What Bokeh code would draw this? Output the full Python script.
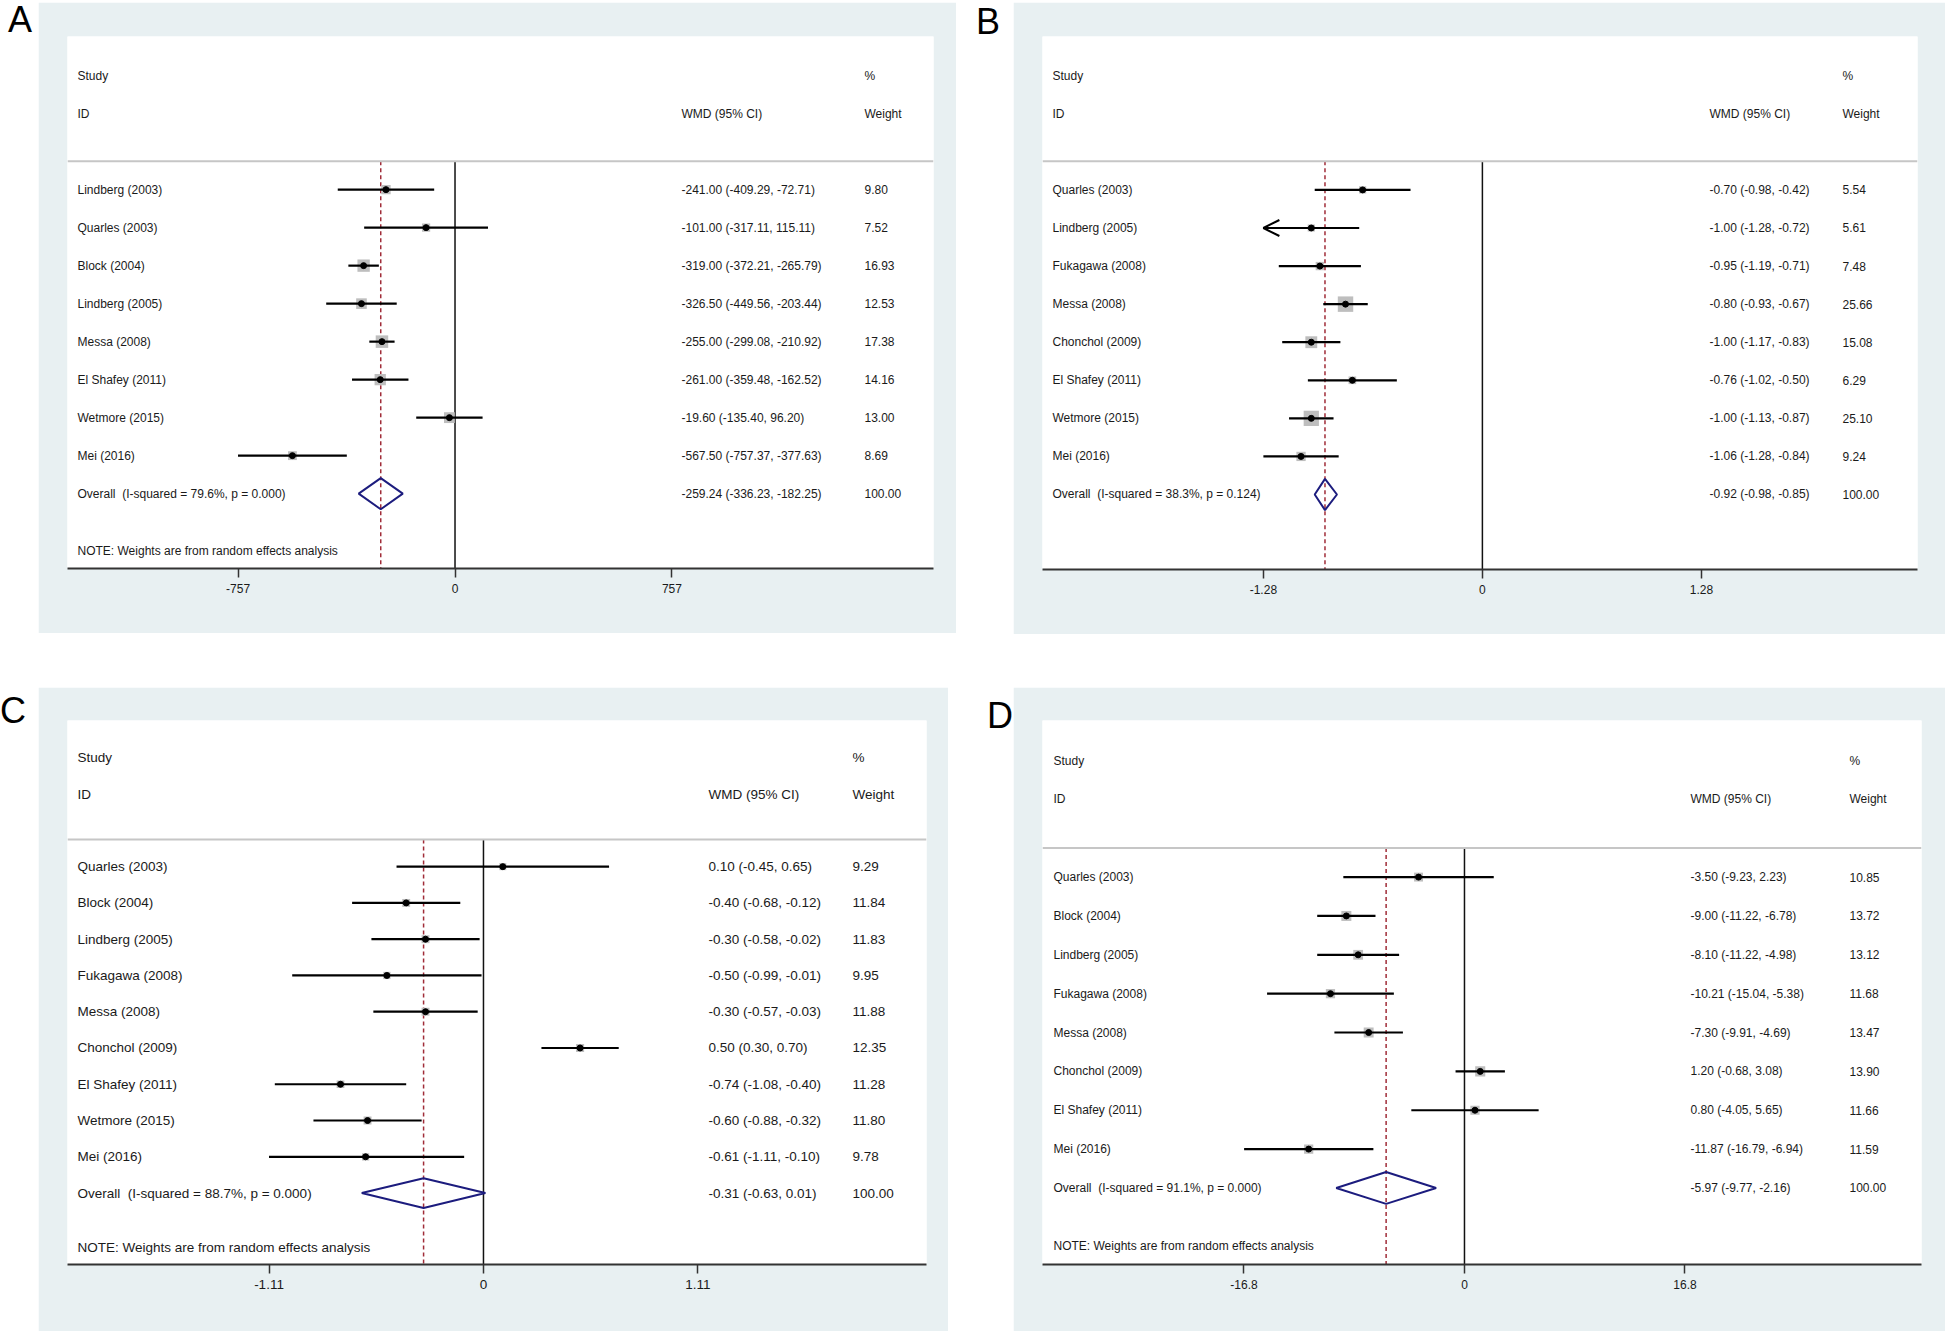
import math
from bokeh.plotting import figure
from bokeh.layouts import row, column, Spacer
from bokeh.models import Range1d, FixedTicker, Div, Span, Arrow, OpenHead
from bokeh.core.properties import value
from bokeh.embed import file_html
from bokeh.resources import INLINE

FONT = "Liberation Sans"
BG = "#E8F0F2"
NAVY = "#1C1C7E"
RED = "#A02C38"

# ---------------- Panel A ----------------
a_studies = ["Lindberg (2003)", "Quarles (2003)", "Block (2004)", "Lindberg (2005)",
             "Messa (2008)", "El Shafey (2011)", "Wetmore (2015)", "Mei (2016)"]
a_wmd = [-241.00, -101.00, -319.00, -326.50, -255.00, -261.00, -19.60, -567.50]
a_lo = [-409.29, -317.11, -372.21, -449.56, -299.08, -359.48, -135.40, -757.37]
a_hi = [-72.71, 115.11, -265.79, -203.44, -210.92, -162.52, 96.20, -377.63]
a_wt = [9.80, 7.52, 16.93, 12.53, 17.38, 14.16, 13.00, 8.69]
a_overall = [-259.24, -336.23, -182.25]
a_i2, a_p = "79.6%", "0.000"
a_ticks = [-757, 0, 757]
a_tick_labels = ["-757", "0", "757"]

# ---------------- Panel B ----------------
b_studies = ["Quarles (2003)", "Lindberg (2005)", "Fukagawa (2008)", "Messa (2008)",
             "Chonchol (2009)", "El Shafey (2011)", "Wetmore (2015)", "Mei (2016)"]
b_wmd = [-0.70, -1.00, -0.95, -0.80, -1.00, -0.76, -1.00, -1.06]
b_lo = [-0.98, -1.28, -1.19, -0.93, -1.17, -1.02, -1.13, -1.28]
b_hi = [-0.42, -0.72, -0.71, -0.67, -0.83, -0.50, -0.87, -0.84]
b_wt = [5.54, 5.61, 7.48, 25.66, 15.08, 6.29, 25.10, 9.24]
b_overall = [-0.92, -0.98, -0.85]
b_i2, b_p = "38.3%", "0.124"
b_ticks = [-1.28, 0, 1.28]
b_tick_labels = ["-1.28", "0", "1.28"]

# ---------------- Panel C ----------------
c_studies = ["Quarles (2003)", "Block (2004)", "Lindberg (2005)", "Fukagawa (2008)",
             "Messa (2008)", "Chonchol (2009)", "El Shafey (2011)", "Wetmore (2015)", "Mei (2016)"]
c_wmd = [0.10, -0.40, -0.30, -0.50, -0.30, 0.50, -0.74, -0.60, -0.61]
c_lo = [-0.45, -0.68, -0.58, -0.99, -0.57, 0.30, -1.08, -0.88, -1.11]
c_hi = [0.65, -0.12, -0.02, -0.01, -0.03, 0.70, -0.40, -0.32, -0.10]
c_wt = [9.29, 11.84, 11.83, 9.95, 11.88, 12.35, 11.28, 11.80, 9.78]
c_overall = [-0.31, -0.63, 0.01]
c_i2, c_p = "88.7%", "0.000"
c_ticks = [-1.11, 0, 1.11]
c_tick_labels = ["-1.11", "0", "1.11"]

# ---------------- Panel D ----------------
d_studies = ["Quarles (2003)", "Block (2004)", "Lindberg (2005)", "Fukagawa (2008)",
             "Messa (2008)", "Chonchol (2009)", "El Shafey (2011)", "Mei (2016)"]
d_wmd = [-3.50, -9.00, -8.10, -10.21, -7.30, 1.20, 0.80, -11.87]
d_lo = [-9.23, -11.22, -11.22, -15.04, -9.91, -0.68, -4.05, -16.79]
d_hi = [2.23, -6.78, -4.98, -5.38, -4.69, 3.08, 5.65, -6.94]
d_wt = [10.85, 13.72, 13.12, 11.68, 13.47, 13.90, 11.66, 11.59]
d_overall = [-5.97, -9.77, -2.16]
d_i2, d_p = "91.1%", "0.000"
d_ticks = [-16.8, 0, 16.8]
d_tick_labels = ["-16.8", "0", "16.8"]

NOTE = "NOTE: Weights are from random effects analysis"


def fmt(v):
    return f"{v:.2f}"


def forest(studies, wmd, lo, hi, wt, ov, i2, pval, ticks, tick_labels, xr, size,
           borders, cols, box_k, fs, note=True, arrow_rows=()):
    n = len(studies)
    W, H = size
    bl, br, bt, bb = borders
    ybot = n + 1.97
    p = figure(width=W, height=H, x_range=Range1d(*xr), y_range=Range1d(ybot, -4.03),
               output_backend="svg", toolbar_location=None, y_axis_type=None,
               min_border_left=bl, min_border_right=br, min_border_top=bt, min_border_bottom=bb,
               background_fill_color="white", border_fill_color=BG, outline_line_color=None)
    p.xgrid.visible = False
    p.ygrid.visible = False
    fw = W - bl - br

    def xc(off):
        return xr[0] + off / fw * (xr[1] - xr[0])

    rows = list(range(n))
    fsz = f"{fs}px"
    txt = dict(text_font=value(FONT), text_font_size=fsz, text_baseline="middle",
               text_align="left", text_color="#1a1a1a")

    # header separator
    p.add_layout(Span(location=-0.75, dimension="width", line_color="#C6C6C6", line_width=2))
    # reference lines
    p.segment(x0=[0], y0=[-0.75], x1=[0], y1=[ybot], line_color="#111111", line_width=1.5)
    p.segment(x0=[ov[0]], y0=[-0.75], x1=[ov[0]], y1=[ybot], line_color=RED,
              line_width=1.5, line_dash="4 3")

    # weight boxes
    sizes = [box_k * math.sqrt(w) for w in wt]
    p.scatter(x=wmd, y=rows, size=sizes, marker="square", fill_color="#BEBEBE",
              line_color=None)
    # CIs
    p.segment(x0=lo, y0=rows, x1=hi, y1=rows, line_color="black", line_width=2.2)
    for r in arrow_rows:
        p.add_layout(Arrow(end=OpenHead(size=16, line_width=2, line_color="black"),
                           x_start=wmd[r], y_start=r, x_end=lo[r], y_end=r,
                           line_width=2.2, line_color="black"))
    # point estimates
    p.scatter(x=wmd, y=rows, size=6, marker="circle", fill_color="black", line_color="black")

    # overall diamond
    ry = n
    h = 0.41
    p.patch(x=[ov[1], ov[0], ov[2], ov[0], ov[1]], y=[ry, ry - h, ry, ry + h, ry],
            fill_color=None, line_color=NAVY, line_width=2)

    # text columns
    c_lab, c_wmd, c_wt = cols
    labels = list(studies) + [f"Overall \u00a0(I-squared = {i2}, p = {pval})"]
    ys = rows + [n]
    p.text(x=[xc(c_lab)] * (n + 1), y=ys, text=labels, **txt)
    wmd_txt = [f"{fmt(a)} ({fmt(b)}, {fmt(c)})" for a, b, c in zip(wmd, lo, hi)]
    wmd_txt.append(f"{fmt(ov[0])} ({fmt(ov[1])}, {fmt(ov[2])})")
    p.text(x=[xc(c_wmd)] * (n + 1), y=ys, text=wmd_txt, **txt)
    wt_txt = [fmt(w) for w in wt] + ["100.00"]
    p.text(x=[xc(c_wt)] * (n + 1), y=ys, text=wt_txt, **txt)
    # headers
    p.text(x=[xc(c_lab), xc(c_lab), xc(c_wmd), xc(c_wt), xc(c_wt)],
           y=[-3, -2, -2, -3, -2],
           text=["Study", "ID", "WMD (95% CI)", "%", "Weight"], **txt)
    if note:
        p.text(x=[xc(c_lab)], y=[n + 1.5], text=[NOTE], **txt)

    # axis
    ax = p.xaxis[0]
    ax.ticker = FixedTicker(ticks=ticks)
    ax.major_label_overrides = {t: l for t, l in zip(ticks, tick_labels)}
    ax.minor_tick_line_color = None
    ax.axis_line_width = 2
    ax.axis_line_color = "#333333"
    ax.major_tick_in = 0
    ax.major_tick_out = 9
    ax.major_tick_line_width = 1.5
    ax.major_tick_line_color = "#333333"
    ax.major_label_text_font = FONT
    ax.major_label_text_font_size = fsz
    ax.major_label_text_color = "#1a1a1a"
    ax.major_label_standoff = 6
    return p


figA = forest(a_studies, a_wmd, a_lo, a_hi, a_wt, a_overall, a_i2, a_p, a_ticks, a_tick_labels,
              xr=(-1352.5, 1670), size=(918, 631), borders=(29, 23, 33, 65),
              cols=(10, 614, 797), box_k=3.0, fs=12, note=True)
figB = forest(b_studies, b_wmd, b_lo, b_hi, b_wt, b_overall, b_i2, b_p, b_ticks, b_tick_labels,
              xr=(-2.571, 2.543), size=(932, 632), borders=(29, 28, 34, 64),
              cols=(10, 667, 800), box_k=3.05, fs=12, note=False, arrow_rows=(1,))
figC = forest(c_studies, c_wmd, c_lo, c_hi, c_wt, c_overall, c_i2, c_p, c_ticks, c_tick_labels,
              xr=(-2.153, 2.293), size=(910, 644), borders=(29, 22, 32, 66),
              cols=(10, 641, 785), box_k=2.3, fs=13.5, note=True)
figD = forest(d_studies, d_wmd, d_lo, d_hi, d_wt, d_overall, d_i2, d_p, d_ticks, d_tick_labels,
              xr=(-32.15, 34.82), size=(932, 644), borders=(29, 24, 33, 67),
              cols=(11, 648, 807), box_k=2.7, fs=12, note=True)


def label_div(ch, w, pl, pt):
    html = (f'<div style="font-family:\'{FONT}\';font-size:36px;line-height:1;'
            f'padding-left:{pl}px;padding-top:{pt}px;color:#000;">{ch}</div>')
    return Div(text=html, width=w, height=60, margin=0)


top = row(label_div("A", 38, 8, 0), figA, label_div("B", 57, 20, 2), figB, spacing=0)
bottom = row(label_div("C", 38, 0, 6), figC, label_div("D", 65, 39, 11), figD, spacing=0)
layout = column(Spacer(width=10, height=2), top, Spacer(width=10, height=53), bottom, spacing=0)

open("out.html", "w").write(file_html(layout, INLINE, title="Forest plots"))
